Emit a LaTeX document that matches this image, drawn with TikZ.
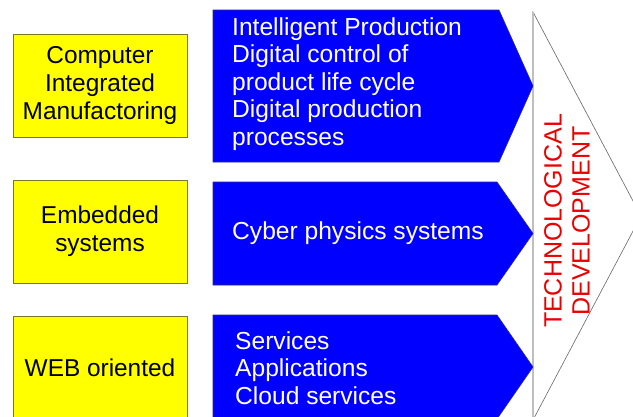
\documentclass[tikz,border=0pt]{standalone}
\usepackage{fontspec}
\setmainfont{Liberation Sans}
\definecolor{ybox}{RGB}{255,255,0}
\definecolor{yedge}{RGB}{120,120,40}
\definecolor{bfill}{RGB}{0,0,255}
\definecolor{bedge}{RGB}{40,40,140}
\definecolor{tred}{RGB}{235,0,0}
\begin{document}
\begin{tikzpicture}[x=1pt,y=-1pt,
  yellowbox/.style={draw=yedge, line width=0.8pt, fill=ybox, minimum width=174pt, align=center, inner sep=0pt,
    font=\fontsize{24.4}{28}\selectfont},
  bluearrow/.style={draw=bedge, line width=0.6pt, fill=bfill},
  bluetext/.style={text=white, align=left, anchor=west, inner sep=0pt, font=\fontsize{24.6}{27.5}\selectfont},
  bigarrow/.style={draw=gray!80!black, line width=0.6pt, fill=white}
]
\useasboundingbox (0,0) rectangle (633,416);
\begin{scope}
\clip (0,0) rectangle (633,416);
% big white arrow
\path[bigarrow] (533,12) -- (641,216) -- (533,420) -- cycle;
\draw[gray!50, line width=1.5pt] (533,12) -- (533,420);
% blue arrows
\path[bluearrow] (213,10) -- (499,10) -- (533,86) -- (499,162) -- (213,162) -- cycle;
\path[bluearrow] (213,182) -- (497,182) -- (533,233.5) -- (497,285) -- (213,285) -- cycle;
\path[bluearrow] (213,315) -- (497,315) -- (533,367) -- (497,419) -- (213,419) -- cycle;
% yellow boxes
\node[yellowbox, minimum height=103pt] (cim) at (100,85.5) {Computer\\Integrated\\Manufactoring};
\node[yellowbox, minimum height=103pt] (emb) at (100,231.5) {Embedded\\systems};
\node[yellowbox, minimum height=103pt] (web) at (100,367.5) {WEB oriented};
% blue texts
\node[bluetext] (t1) at (232,84) {Intelligent Production\\Digital control of\\product life cycle\\Digital production\\processes};
\node[bluetext] (t2) at (232,233) {Cyber physics systems};
\node[bluetext] (t3) at (235,368) {Services\\Applications\\Cloud services};
% vertical label
\node[rotate=90, text=tred, align=center, inner sep=0pt, font=\fontsize{25}{28}\selectfont] (tech) at (567,221) {TECHNOLOGICAL\\DEVELOPMENT};
\end{scope}
\end{tikzpicture}
\end{document}
